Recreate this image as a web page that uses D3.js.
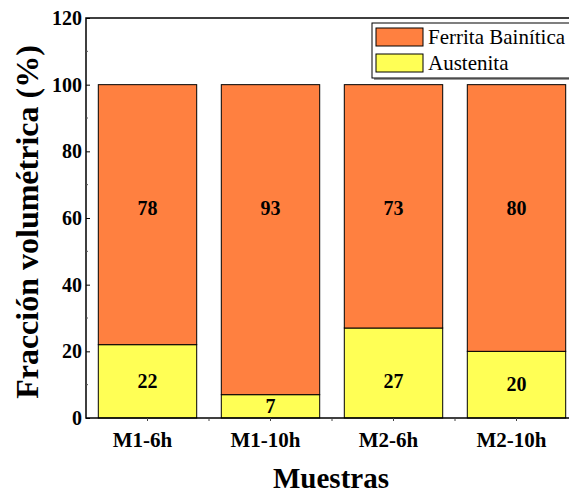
<!DOCTYPE html>
<html>
<head>
<meta charset="utf-8">
<script src="https://cdn.jsdelivr.net/npm/d3@7/dist/d3.min.js"></script>
<style>
  html, body { margin: 0; padding: 0; background: #fff; }
  svg { display: block; }
  text { font-family: "Liberation Serif", "Times New Roman", serif; }
</style>
</head>
<body>
<svg id="chart" width="569" height="493"></svg>
<script>
// Volume fractions (%) per sample
const categories = ["M1-6h", "M1-10h", "M2-6h", "M2-10h"];
const austenita = [22, 7, 27, 20];
const ferrita = [78, 93, 73, 80];
const seriesNames = ["Ferrita Bainítica", "Austenita"];
const yTickValues = [0, 20, 40, 60, 80, 100, 120];

const colors = { "Ferrita Bainítica": "#FF8040", "Austenita": "#FFFF55" };

const svg = d3.select("#chart");
const plotLeft = 86, plotTop = 18, plotW = 492, plotH = 400;

const rows = categories.map((c, i) => ({
  cat: c,
  "Austenita": austenita[i],
  "Ferrita Bainítica": ferrita[i]
}));

const x = d3.scaleBand().domain(categories)
  .range([plotLeft, plotLeft + plotW]).paddingInner(0.2).paddingOuter(0.1);
const y = d3.scaleLinear().domain([0, 120]).range([plotTop + plotH, plotTop]);

const stack = d3.stack().keys(["Austenita", "Ferrita Bainítica"]);
const layers = stack(rows);

// stacked bars
const g = svg.append("g");
layers.forEach(layer => {
  g.selectAll(null).data(layer).enter().append("rect")
    .attr("x", d => x(d.data.cat))
    .attr("width", x.bandwidth())
    .attr("y", d => y(d[1]))
    .attr("height", d => y(d[0]) - y(d[1]))
    .attr("fill", colors[layer.key])
    .attr("stroke", "#000")
    .attr("stroke-width", 1);
});

// value labels
const labels = svg.append("g")
  .attr("font-weight", "bold").attr("font-size", 20)
  .attr("text-anchor", "middle").attr("fill", "#000");
rows.forEach((r, i) => {
  const cx = x(r.cat) + x.bandwidth() / 2;
  labels.append("text").attr("x", cx)
    .attr("y", y(Math.min(r["Austenita"] / 2 - 2, 9)))
    .text(r["Austenita"]);
  labels.append("text").attr("x", cx)
    .attr("y", y(61))
    .text(r["Ferrita Bainítica"]);
});

// frame
svg.append("rect")
  .attr("x", plotLeft).attr("y", plotTop).attr("width", plotW).attr("height", plotH)
  .attr("fill", "none").attr("stroke", "#000").attr("stroke-width", 1.5);

// y axis with inward ticks
const yAxis = d3.axisLeft(y).tickValues(yTickValues)
  .tickSizeInner(-4).tickSizeOuter(0).tickPadding(4);
const ya = svg.append("g").attr("transform", `translate(${plotLeft},0)`).call(yAxis);
ya.select(".domain").remove();
ya.selectAll("text")
  .attr("font-family", "'Liberation Serif', serif")
  .attr("font-weight", "bold").attr("font-size", 20).attr("fill", "#000");
ya.selectAll("line").attr("stroke", "#000");
// minor y ticks
svg.append("g").selectAll("line")
  .data(d3.range(10, 120, 20)).enter().append("line")
  .attr("x1", plotLeft).attr("x2", plotLeft + 2)
  .attr("y1", d => y(d)).attr("y2", d => y(d))
  .attr("stroke", "#555");

// x axis ticks at band centres and gaps
const step = x.step();
const centres = categories.map(c => x(c) + x.bandwidth() / 2);
const gaps = categories.slice(1).map(c => x(c) - (step - x.bandwidth()) / 2);
svg.append("g").selectAll("line")
  .data(centres.concat(gaps)).enter().append("line")
  .attr("x1", d => d).attr("x2", d => d)
  .attr("y1", plotTop + plotH).attr("y2", plotTop + plotH + 3)
  .attr("stroke", "#444");

// category labels
svg.append("g").selectAll("text")
  .data(categories).enter().append("text")
  .attr("x", d => x(d) + x.bandwidth() / 2 - 5)
  .attr("y", 447)
  .attr("text-anchor", "middle")
  .attr("font-weight", "bold").attr("font-size", 21)
  .text(d => d);

// axis titles
svg.append("text")
  .attr("x", 331).attr("y", 488)
  .attr("text-anchor", "middle")
  .attr("font-weight", "bold").attr("font-size", 29)
  .text("Muestras");
svg.append("text")
  .attr("transform", "translate(38,222) rotate(-90)")
  .attr("text-anchor", "middle")
  .attr("font-weight", "bold").attr("font-size", 32)
  .text("Fracción volumétrica (%)");

// legend
const lg = svg.append("g");
lg.append("rect").attr("x", 374).attr("y", 25).attr("width", 210).attr("height", 55)
  .attr("fill", "#999");
lg.append("rect").attr("x", 372).attr("y", 23).attr("width", 210).attr("height", 55)
  .attr("fill", "#fff").attr("stroke", "#000").attr("stroke-width", 1);
seriesNames.forEach((name, i) => {
  lg.append("rect")
    .attr("x", 376).attr("y", 28 + i * 26).attr("width", 47).attr("height", 18)
    .attr("fill", colors[name]).attr("stroke", "#000").attr("stroke-width", 1);
  lg.append("text")
    .attr("x", 428).attr("y", 44 + i * 26)
    .attr("font-size", 21)
    .text(name);
});
</script>
</body>
</html>
